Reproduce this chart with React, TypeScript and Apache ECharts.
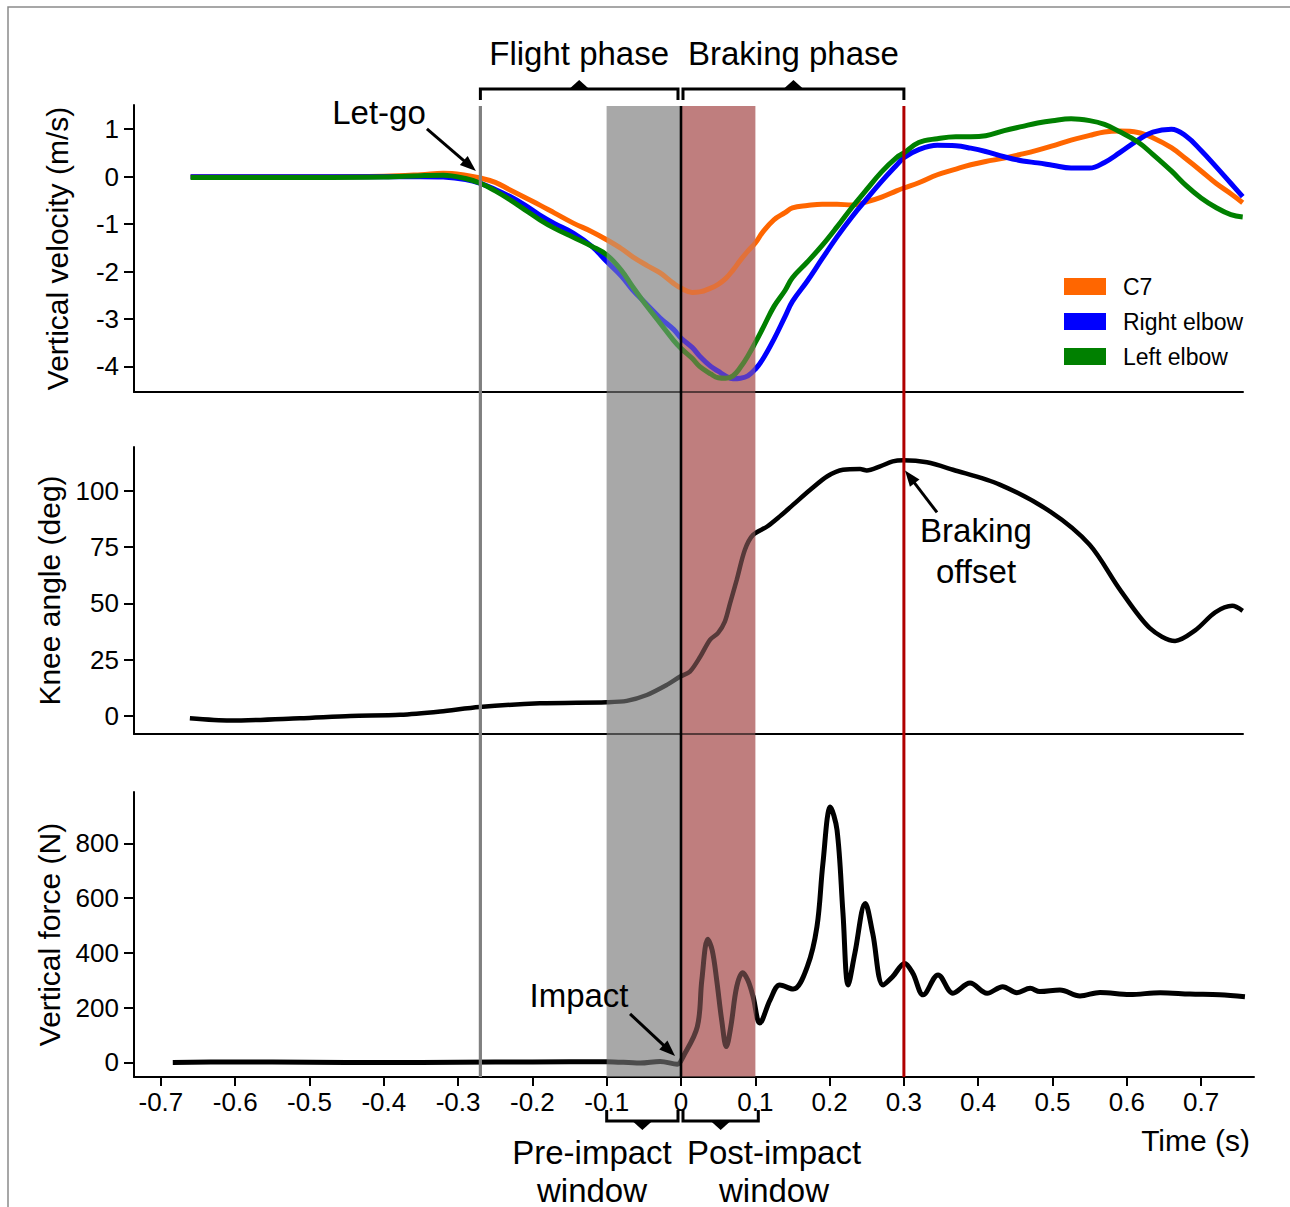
import React, { useEffect, useRef } from "react";
import * as echarts from "echarts";

const FONT = '"Liberation Sans", Arial, Helvetica, sans-serif';

// ---------- data ----------
const velTime = [-0.66, -0.60, -0.50, -0.40, -0.35, -0.32, -0.29, -0.27, -0.25, -0.23, -0.21, -0.19, -0.17, -0.145, -0.12, -0.10, -0.08, -0.065, -0.045, -0.028, -0.01, 0.0, 0.015, 0.025, 0.04, 0.05, 0.06, 0.07, 0.08, 0.09, 0.10, 0.11, 0.125, 0.14, 0.15, 0.17, 0.19, 0.21, 0.23, 0.25, 0.27, 0.29, 0.30, 0.32, 0.345, 0.37, 0.39, 0.41, 0.435, 0.46, 0.48, 0.50, 0.525, 0.55, 0.57, 0.59, 0.615, 0.635, 0.66, 0.68, 0.70, 0.72, 0.74, 0.756];
const c7Vel = [0, 0, 0, 0.01, 0.04, 0.07, 0.03, -0.03, -0.12, -0.28, -0.44, -0.60, -0.77, -0.98, -1.16, -1.33, -1.52, -1.69, -1.88, -2.03, -2.25, -2.35, -2.44, -2.43, -2.35, -2.27, -2.15, -1.97, -1.76, -1.57, -1.40, -1.17, -0.91, -0.76, -0.66, -0.61, -0.58, -0.58, -0.60, -0.53, -0.43, -0.30, -0.24, -0.13, 0.04, 0.16, 0.25, 0.32, 0.39, 0.48, 0.56, 0.65, 0.77, 0.87, 0.94, 0.96, 0.93, 0.82, 0.61, 0.37, 0.12, -0.14, -0.36, -0.55];
const rightElbowVel = [0, 0, 0, 0, 0, -0.01, -0.06, -0.14, -0.27, -0.42, -0.60, -0.81, -0.99, -1.19, -1.47, -1.79, -2.10, -2.39, -2.71, -2.98, -3.22, -3.40, -3.60, -3.78, -4.00, -4.10, -4.20, -4.26, -4.25, -4.20, -4.06, -3.85, -3.43, -2.95, -2.63, -2.20, -1.73, -1.27, -0.85, -0.47, -0.10, 0.24, 0.40, 0.57, 0.66, 0.65, 0.60, 0.53, 0.42, 0.33, 0.29, 0.24, 0.18, 0.18, 0.30, 0.50, 0.77, 0.94, 1.00, 0.85, 0.55, 0.21, -0.14, -0.42];
const leftElbowVel = [-0.02, -0.02, -0.02, -0.01, 0.02, 0.03, -0.04, -0.14, -0.30, -0.49, -0.70, -0.91, -1.09, -1.28, -1.47, -1.65, -1.98, -2.32, -2.75, -3.09, -3.45, -3.62, -3.83, -4.00, -4.16, -4.24, -4.25, -4.20, -4.02, -3.78, -3.50, -3.20, -2.74, -2.40, -2.13, -1.80, -1.45, -1.06, -0.65, -0.27, 0.10, 0.40, 0.50, 0.72, 0.80, 0.84, 0.84, 0.86, 0.97, 1.06, 1.13, 1.18, 1.22, 1.18, 1.10, 0.95, 0.73, 0.47, 0.12, -0.19, -0.45, -0.65, -0.80, -0.85];

const kneeTime = [-0.661, -0.607, -0.513, -0.445, -0.378, -0.324, -0.271, -0.19, -0.10, -0.073, -0.046, -0.019, -0.001, 0.012, 0.026, 0.039, 0.05, 0.059, 0.066, 0.075, 0.086, 0.097, 0.116, 0.133, 0.151, 0.174, 0.197, 0.218, 0.241, 0.25, 0.268, 0.285, 0.299, 0.331, 0.366, 0.429, 0.497, 0.55, 0.591, 0.631, 0.665, 0.692, 0.719, 0.742, 0.756];
const kneeAngle = [-1, -2, -1, 0, 0.5, 2, 4, 5.6, 6.1, 6.7, 9.3, 13.8, 17.5, 19.7, 26.4, 33.8, 36.9, 41.9, 50, 60.4, 73.8, 80.4, 84.1, 88.6, 93.8, 100.4, 106.4, 109.3, 109.6, 109, 110.8, 113, 113.5, 112.6, 109.3, 102.7, 90.7, 76, 56, 39, 33.3, 38, 46, 48.9, 46.7];

const forceTime = [-0.684, -0.6, -0.5, -0.4, -0.3, -0.2, -0.1, -0.055, -0.028, -0.005, 0.003, 0.022, 0.028, 0.036, 0.042, 0.048, 0.055, 0.061, 0.067, 0.075, 0.083, 0.09, 0.097, 0.106, 0.12, 0.133, 0.151, 0.17, 0.183, 0.191, 0.201, 0.21, 0.218, 0.225, 0.234, 0.248, 0.258, 0.272, 0.285, 0.301, 0.312, 0.326, 0.346, 0.366, 0.389, 0.412, 0.433, 0.452, 0.47, 0.483, 0.51, 0.537, 0.564, 0.604, 0.645, 0.685, 0.725, 0.759];
const forceVal = [0, 2, 1, 0, 1, 2, 3, -2, 4, -6, 22, 131, 300, 450, 410, 302, 150, 58, 130, 277, 328, 300, 241, 144, 229, 283, 268, 350, 496, 727, 933, 849, 545, 283, 399, 581, 472, 283, 314, 362, 326, 247, 320, 253, 290, 253, 277, 255, 271, 259, 265, 243, 256, 248, 255, 250, 247, 240];

const xTicks = [-0.7, -0.6, -0.5, -0.4, -0.3, -0.2, -0.1, 0, 0.1, 0.2, 0.3, 0.4, 0.5, 0.6, 0.7];
const velTicks = [-4, -3, -2, -1, 0, 1];
const kneeTicks = [0, 25, 50, 75, 100];
const forceTicks = [0, 200, 400, 600, 800];

const seriesNames = ["C7", "Right elbow", "Left elbow"];
const seriesColors = ["#ff6600", "#0000ff", "#008000"];

const letGo = -0.27;
const impact = 0;
const brakingOffset = 0.3;
const preWindow = [-0.1, 0];
const postWindow = [0, 0.1];

// ---------- layout ----------
const X_MIN = -0.7362;
const X_MAX_TOP = 0.7564;
const X_MAX_BOTTOM = 0.7712;

const zip = (a: number[], b: number[]) => a.map((t, i) => [t, b[i]]);
const fmtX = (v: number) => (Math.abs(v) < 1e-9 ? "0" : String(+v.toFixed(1)));

const axisLineStyle = { color: "#000", width: 2 };

function xAxis(gridIndex: number, max: number, labels: boolean, hidden = false) {
  return {
    type: "value",
    gridIndex,
    min: X_MIN,
    max,
    show: !hidden,
    z: 2,
    axisLine: { show: true, onZero: false, lineStyle: axisLineStyle },
    axisTick: { show: labels, customValues: xTicks, length: 9, lineStyle: { color: "#000", width: 2 } },
    axisLabel: {
      show: labels,
      customValues: xTicks,
      formatter: fmtX,
      fontSize: 26,
      fontFamily: FONT,
      color: "#000",
      margin: 12,
    },
    splitLine: { show: false },
  };
}

function yAxis(gridIndex: number, min: number, max: number, ticks: number[], name: string) {
  return {
    type: "value",
    gridIndex,
    min,
    max,
    z: 2,
    name,
    nameLocation: "middle",
    nameRotate: 90,
    nameGap: 62,
    nameTextStyle: { fontSize: 30, fontFamily: FONT, color: "#000" },
    axisLine: { show: true, onZero: false, lineStyle: axisLineStyle },
    axisTick: { show: true, customValues: ticks, length: 10, lineStyle: { color: "#000", width: 2 } },
    axisLabel: { customValues: ticks, fontSize: 26, fontFamily: FONT, color: "#000", margin: 15 },
    splitLine: { show: false },
  };
}

const shadeData = [
  [preWindow[0], preWindow[1], 0],
  [postWindow[0], postWindow[1], 1],
];
const shadeColors = ["#a8a8a8", "#bf7f7f"];
const vlineData = [
  [letGo, 0],
  [impact, 1],
  [brakingOffset, 2],
];
const vlineColors = ["#808080", "#000000", "#b00000"];
const vlineWidths = [3.2, 2.6, 3];

function shadeRender(alpha: number) {
  return (_p: any, api: any) => {
    const a = api.coord([api.value(0), 1]);
    const b = api.coord([api.value(1), 0]);
    return {
      type: "rect",
      shape: { x: a[0], y: a[1], width: b[0] - a[0], height: b[1] - a[1] },
      style: { fill: shadeColors[api.value(2)], opacity: alpha },
    };
  };
}

export default function App() {
  const ref = useRef<HTMLDivElement>(null);
  useEffect(() => {
    document.body.style.margin = "0";
    const chart = echarts.init(ref.current!, null, { renderer: "svg" });

    const velSeries = [c7Vel, rightElbowVel, leftElbowVel].map((vals, i) => ({
      type: "line",
      name: seriesNames[i],
      xAxisIndex: 0,
      yAxisIndex: 0,
      data: zip(velTime, vals),
      showSymbol: false,
      smooth: 0.4,
      z: 3,
      color: seriesColors[i],
      lineStyle: { color: seriesColors[i], width: 5 },
      itemStyle: { color: seriesColors[i] },
    }));

    const option: any = {
      animation: false,
      backgroundColor: "#fff",
      textStyle: { fontFamily: FONT },
      grid: [
        { left: 134, top: 105, width: 1109, height: 287, outerBoundsMode: "none" },
        { left: 134, top: 447, width: 1109, height: 287, outerBoundsMode: "none" },
        { left: 134, top: 792, width: 1120, height: 285, outerBoundsMode: "none" },
        { left: 134, top: 106, width: 1109, height: 971, outerBoundsMode: "none" },
      ],
      xAxis: [
        xAxis(0, X_MAX_TOP, false),
        xAxis(1, X_MAX_TOP, false),
        xAxis(2, X_MAX_BOTTOM, true),
        xAxis(3, X_MAX_TOP, false, true),
      ],
      yAxis: [
        yAxis(0, -4.54, 1.51, velTicks, "Vertical velocity (m/s)"),
        yAxis(1, -8, 119.4, kneeTicks, "Knee angle (deg)"),
        yAxis(2, -53, 988, forceTicks, "Vertical force (N)"),
        { type: "value", gridIndex: 3, min: 0, max: 1, show: false },
      ],
      legend: {
        left: 1064,
        top: 275,
        orient: "vertical",
        icon: "rect",
        itemWidth: 42,
        itemHeight: 17,
        itemGap: 12,
        padding: 0,
        selectedMode: false,
        data: seriesNames,
        textStyle: { fontSize: 23, fontFamily: FONT, color: "#000", lineHeight: 17, padding: [0, 0, 0, 12] },
      },
      series: [
        {
          type: "custom",
          xAxisIndex: 3,
          yAxisIndex: 3,
          z: 1,
          silent: true,
          data: shadeData,
          renderItem: shadeRender(1),
        },
        ...velSeries,
        {
          type: "line",
          name: "Knee angle",
          xAxisIndex: 1,
          yAxisIndex: 1,
          data: zip(kneeTime, kneeAngle),
          showSymbol: false,
          smooth: 0.3,
          z: 3,
          lineStyle: { color: "#000", width: 4.5 },
          itemStyle: { color: "#000" },
        },
        {
          type: "line",
          name: "Vertical force",
          xAxisIndex: 2,
          yAxisIndex: 2,
          data: zip(forceTime, forceVal),
          showSymbol: false,
          smooth: 0.35,
          z: 3,
          lineStyle: { color: "#000", width: 5 },
          itemStyle: { color: "#000" },
        },
        {
          type: "custom",
          xAxisIndex: 3,
          yAxisIndex: 3,
          z: 4,
          silent: true,
          data: shadeData,
          renderItem: shadeRender(0.45),
        },
        {
          type: "custom",
          xAxisIndex: 3,
          yAxisIndex: 3,
          z: 5,
          silent: true,
          data: vlineData,
          renderItem: (_p: any, api: any) => {
            const a = api.coord([api.value(0), 1]);
            const b = api.coord([api.value(0), 0]);
            const k = api.value(1);
            return {
              type: "line",
              shape: { x1: a[0], y1: a[1], x2: b[0], y2: b[1] },
              style: { stroke: vlineColors[k], lineWidth: vlineWidths[k] },
            };
          },
        },
      ],
    };

    chart.setOption(option);

    const gx = (t: number) => chart.convertToPixel({ xAxisIndex: 3 } as any, t) as unknown as number;
    const gp = (g: number, t: number, v: number) => chart.convertToPixel({ gridIndex: g } as any, [t, v]) as number[];

    const els: any[] = [];
    const txt = (text: string, x: number, y: number, size: number, align = "center", lh?: number) => {
      els.push({
        type: "text",
        x,
        y,
        z: 20,
        silent: true,
        style: {
          text,
          fill: "#000",
          fontSize: size,
          fontFamily: FONT,
          align,
          verticalAlign: "middle",
          lineHeight: lh || size * 1.2,
        },
      });
    };
    const bracket = (x1: number, x2: number, y: number, dir: number) => {
      const tick = 11 * -dir;
      els.push({
        type: "polyline",
        z: 20,
        silent: true,
        shape: { points: [[x1, y + tick], [x1, y], [x2, y], [x2, y + tick]] },
        style: { stroke: "#000", lineWidth: 3, fill: null },
      });
      const xc = (x1 + x2) / 2;
      els.push({
        type: "polygon",
        z: 20,
        silent: true,
        shape: { points: [[xc - 10, y], [xc + 10, y], [xc, y + dir * 9]] },
        style: { fill: "#000" },
      });
    };
    const arrow = (tip: number[], dx: number, dy: number) => {
      const x2 = tip[0], y2 = tip[1];
      const x1 = x2 + dx, y1 = y2 + dy;
      const L = Math.hypot(x2 - x1, y2 - y1);
      const ux = (x2 - x1) / L, uy = (y2 - y1) / L;
      const hl = 16, hw = 6;
      const bx = x2 - ux * hl, by = y2 - uy * hl;
      els.push({
        type: "line",
        z: 20,
        silent: true,
        shape: { x1, y1, x2: bx + ux * 2, y2: by + uy * 2 },
        style: { stroke: "#000", lineWidth: 3 },
      });
      els.push({
        type: "polygon",
        z: 20,
        silent: true,
        shape: { points: [[x2, y2], [bx - uy * hw, by + ux * hw], [bx + uy * hw, by - ux * hw]] },
        style: { fill: "#000" },
      });
    };

    // figure border
    els.push({
      type: "rect",
      z: 0,
      silent: true,
      shape: { x: 8, y: 7, width: 1320, height: 1320 },
      style: { fill: null, stroke: "#8a8a8a", lineWidth: 1.5 },
    });

    const xLet = gx(letGo);
    const x0 = gx(impact);
    const xOff = gx(brakingOffset);
    const xPre = gx(preWindow[0]);
    const xPost = gx(postWindow[1]);

    // top phase brackets
    bracket(xLet, x0 - 3, 89, -1);
    bracket(x0 + 2, xOff, 89, -1);
    txt("Flight phase", (xLet + x0 - 3) / 2, 53, 33);
    txt("Braking phase", (x0 + 2 + xOff) / 2, 53, 33);

    // bottom window brackets
    bracket(xPre, x0 - 3, 1121, 1);
    bracket(x0 + 2, xPost + 3, 1121, 1);
    txt("Pre-impact\nwindow", 592, 1171, 33, "center", 38);
    txt("Post-impact\nwindow", 774, 1171, 33, "center", 38);

    // annotations
    txt("Let-go", 379, 112, 33);
    arrow(gp(0, -0.276, 0.12), -49, -42);
    txt("Braking\noffset", 976, 551, 33, "center", 41);
    arrow(gp(1, 0.3015, 109), 32, 42);
    txt("Impact", 579, 995, 33);
    arrow(gp(2, -0.008, 24), -45, -42);

    txt("Time (s)", 1250, 1140, 30, "right");

    chart.setOption({ graphic: { elements: els } });

    return () => chart.dispose();
  }, []);
  return <div ref={ref} style={{ width: 1290, height: 1207 }} />;
}
